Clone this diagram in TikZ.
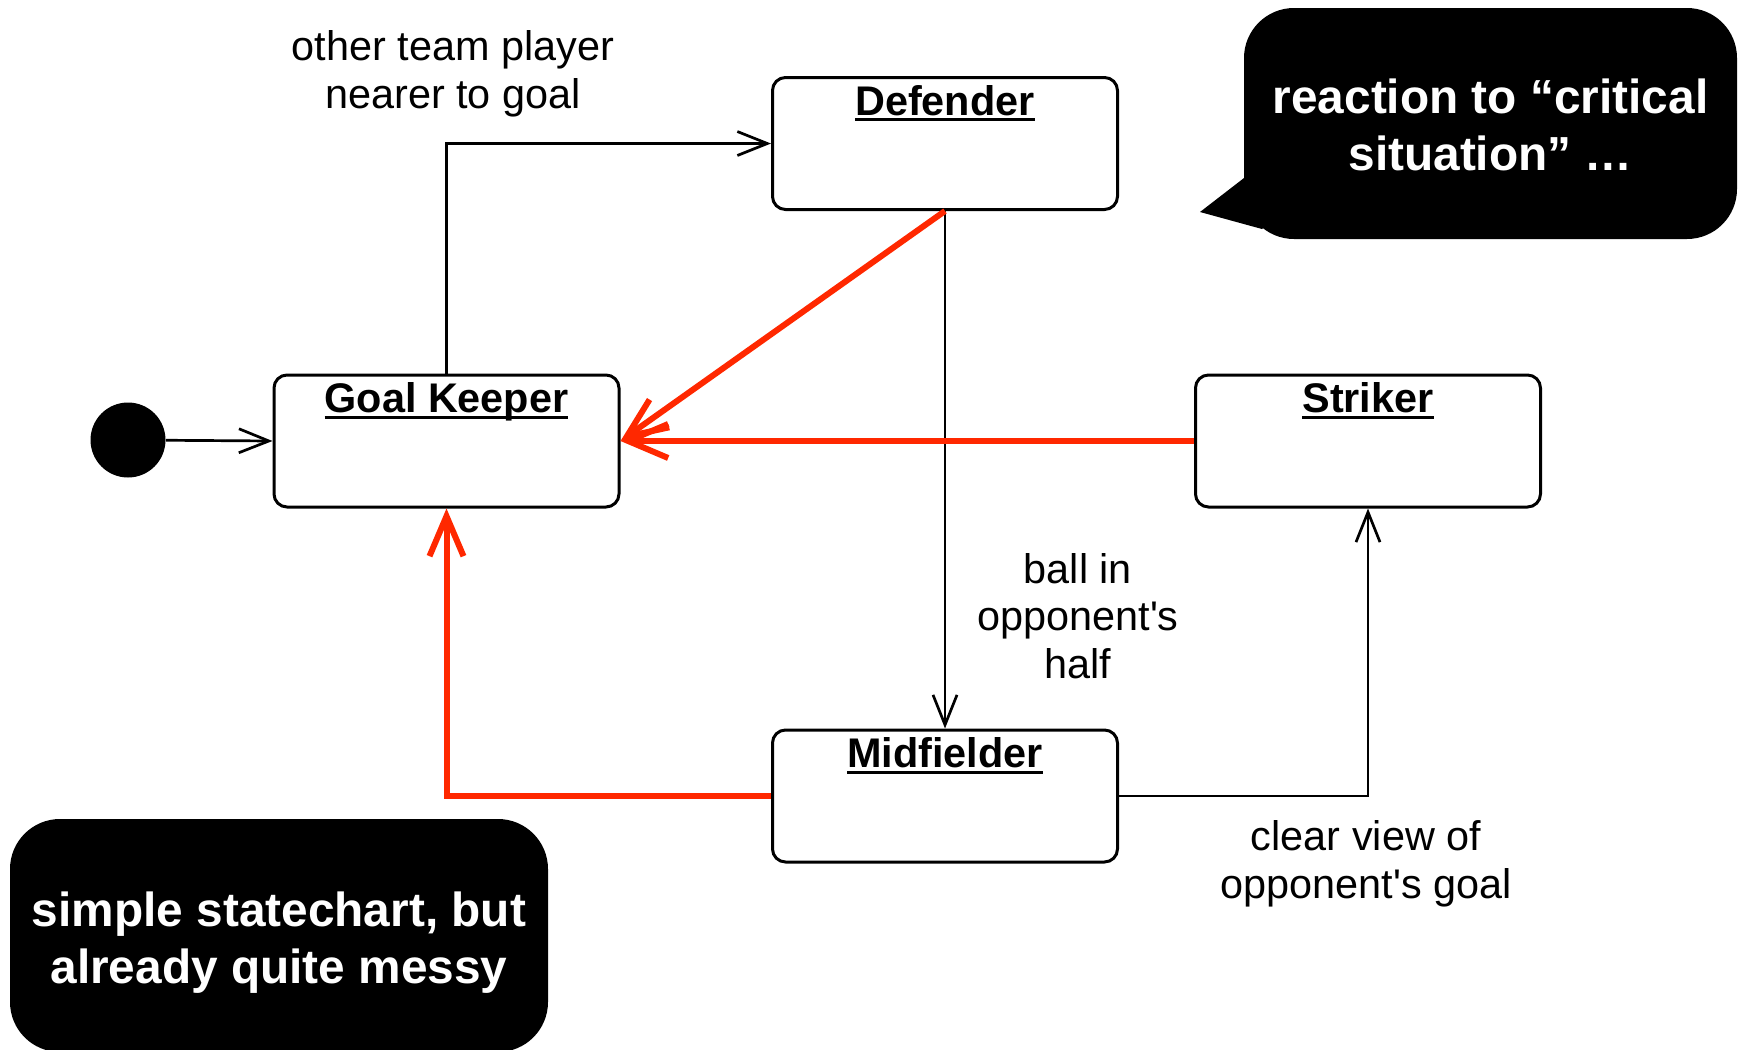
\documentclass[tikz,border=0pt]{standalone}
\usepackage{fontspec}
\setmainfont{Liberation Sans}
\usetikzlibrary{arrows.meta}
\definecolor{hotred}{RGB}{255,40,0}
\newsavebox\titlebox
% underlined state title: rule sits just below the baseline
\newcommand{\statetitle}[1]{\sbox\titlebox{#1}\rlap{\rule[-3pt]{\wd\titlebox}{1.3pt}}\usebox\titlebox}
\begin{document}
\begin{tikzpicture}[x=0.5pt,y=-0.5pt,
  statebox/.style={draw, line width=1.5pt, rounded corners=6.5pt, minimum width=172.5pt,
    minimum height=66pt, inner sep=0pt, fill=white},
  titletext/.style={anchor=base, inner sep=0pt, font=\fontsize{20.7}{24}\selectfont\bfseries},
  lbl/.style={align=center, inner sep=0pt, font=\fontsize{20.7}{23.8}\selectfont},
  trans/.style={line width=1.35pt, -{Straight Barb[length=15pt,width=12pt]}},
  hot/.style={draw=hotred, line width=3pt, -{Straight Barb[length=20pt,width=17pt]}},
  bubble/.style={fill=black, rounded corners=25pt, inner sep=0pt},
  bubbletext/.style={text=white, align=center, inner sep=0pt,
    font=\fontsize{23.9}{28.7}\selectfont\bfseries}]
\useasboundingbox (0,0) rectangle (1742,1050);

% states
\node[statebox] (gk)  at (446.5,441)  {};
\node[statebox] (def) at (945,143.5)  {};
\node[statebox] (str) at (1368,441)   {};
\node[statebox] (mid) at (945,796)    {};
\node[titletext] (gkt)  at ([yshift=-19.5pt]gk.north)  {\statetitle{Goal Keeper}};
\node[titletext] (deft) at ([yshift=-19.5pt]def.north) {\statetitle{Defender}};
\node[titletext] (strt) at ([yshift=-19.5pt]str.north) {\statetitle{Striker}};
\node[titletext] (midt) at ([yshift=-19.5pt]mid.north) {\statetitle{Midfielder}};

% initial state
\node[circle, fill=black, minimum size=37.5pt, inner sep=0pt] (init) at (128,440) {};

% ordinary transitions
\draw[trans] (init) -- (gk.west);
\draw[trans] (gk.north) |- (def.west);
\draw[trans] (def.south) -- (mid.north);
\draw[trans] (mid.east) -| (str.south);

% transition labels
\node[lbl] (l1) at (453,73.5) {other team player\\nearer to goal};
\node[lbl] (l2) at (1078,616) {ball in\\opponent\textquotesingle s\\half};
\node[lbl] (l3) at (1366,864) {clear view of\\opponent\textquotesingle s goal};

% critical-situation transitions back to the keeper
\draw[hot] (def.south) -- (gk.east);
\draw[hot] (str.west) -- (gk.east);
\draw[hot] (mid.west) -| (gk.south);

% speech bubbles
\fill (1254,170.3) -- (1200,212) -- (1262,229) -- (1300,200) -- cycle;
\node[bubble, minimum width=246.5pt, minimum height=115.5pt] (c1) at (1490.5,123.5) {};
\node[bubbletext] (c1t) at (1490.5,125) {reaction to “critical\\situation” …};
\node[bubble, minimum width=269pt, minimum height=116.5pt] (c2) at (279,935.5) {};
\node[bubbletext] (c2t) at (279,942.5) {simple statechart, but\\already quite messy};
\end{tikzpicture}
\end{document}
